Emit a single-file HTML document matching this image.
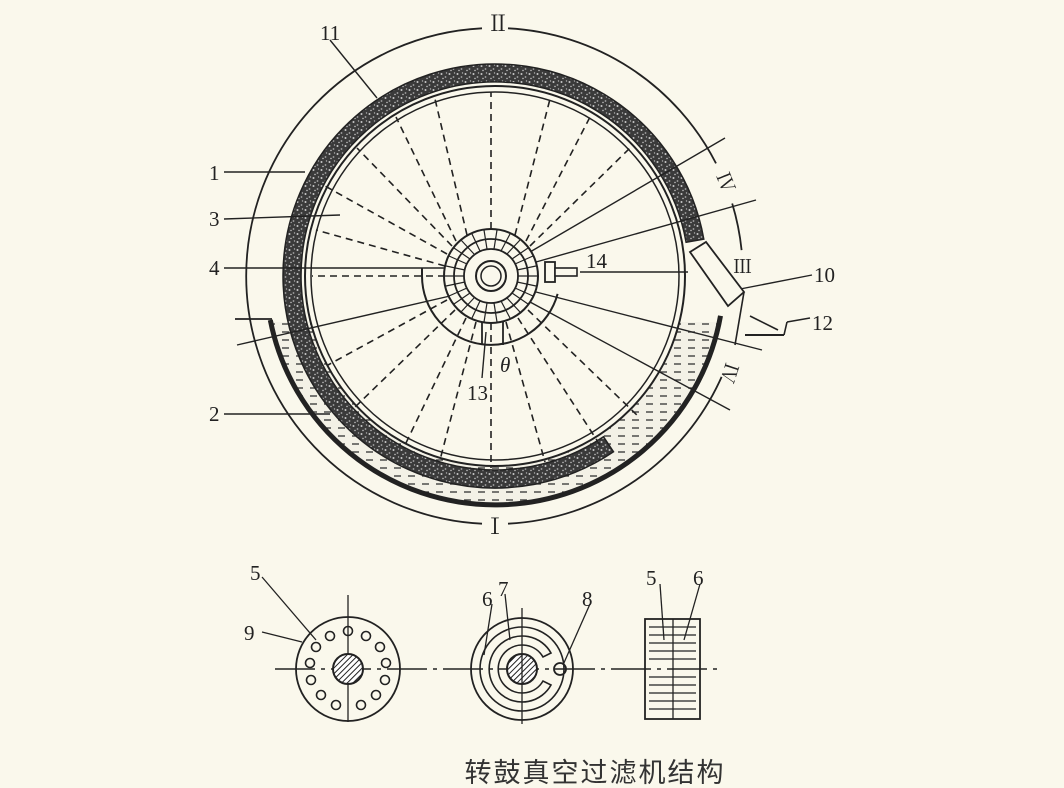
<!DOCTYPE html>
<html><head><meta charset="utf-8"><style>
html,body{margin:0;padding:0;background:#faf8ec;}
svg{display:block;}
text{font-family:"Liberation Serif","Noto Serif CJK SC",serif;fill:#222;}
</style></head><body>
<svg width="1064" height="788" viewBox="0 0 1064 788" xmlns="http://www.w3.org/2000/svg">
<defs>
<pattern id="speck" width="8" height="8" patternUnits="userSpaceOnUse">
<rect width="8" height="8" fill="#3a3a3a"/>
<circle cx="1.5" cy="2" r="1" fill="#c8c8c8"/>
<circle cx="5.5" cy="5" r="0.9" fill="#a8a8a8"/>
<circle cx="3" cy="6.5" r="0.7" fill="#d0d0d0"/>
<circle cx="6.5" cy="1" r="0.7" fill="#b0b0b0"/>
</pattern>
<pattern id="liq" width="14" height="8" patternUnits="userSpaceOnUse">
<rect width="14" height="8" fill="#f3f1e6"/>
<line x1="2" y1="4" x2="9" y2="4" stroke="#333" stroke-width="1.3"/>
</pattern>
<pattern id="hatch" width="4" height="4" patternUnits="userSpaceOnUse" patternTransform="rotate(45)">
<rect width="4" height="4" fill="#fff"/>
<line x1="0" y1="0" x2="0" y2="4" stroke="#222" stroke-width="2"/>
</pattern>
<clipPath id="below"><rect x="0" y="322" width="1064" height="300"/></clipPath>
</defs>

<g fill="none" stroke="#222" stroke-width="1.8">
<path d="M508,28.3 A248,248 0 0 1 716,163.4"/>
<path d="M732.2,203.5 A248,248 0 0 1 741.6,250.1"/>
<path d="M721.6,376.9 A248,248 0 0 1 508,523.7"/>
<path d="M482,523.7 A248,248 0 0 1 482,28.3"/>
</g>

<g clip-path="url(#below)">
<path d="M495,47 A229,229 0 1 1 494.9,47 Z M495,86 A190,190 0 1 0 495.1,86 Z" fill="url(#liq)" fill-rule="evenodd"/>
</g>

<path d="M703.8,239.2 A212,212 0 1 0 613.5,451.8 L603.5,436.8 A194,194 0 1 1 686.1,242.3 Z" fill="url(#speck)" stroke="#222" stroke-width="1.5"/>

<path d="M270.3,320 A229,229 0 0 0 720.5,315.8" fill="none" stroke="#222" stroke-width="5"/>
<line x1="235" y1="319" x2="272" y2="319" stroke="#222" stroke-width="1.8"/>

<circle cx="495" cy="276" r="190" fill="none" stroke="#222" stroke-width="2"/>
<circle cx="495" cy="276" r="184" fill="none" stroke="#222" stroke-width="1.5"/>

<g stroke="#222" stroke-width="1.6" stroke-dasharray="7,5">
<line x1="491" y1="229" x2="491" y2="92"/>
<line x1="467" y1="235" x2="435" y2="99"/>
<line x1="515" y1="235" x2="550" y2="99"/>
<line x1="456" y1="241" x2="396" y2="117"/>
<line x1="526" y1="241" x2="590" y2="117"/>
<line x1="452" y1="246" x2="357" y2="148"/>
<line x1="530" y1="246" x2="630" y2="148"/>
<line x1="447" y1="254" x2="325" y2="186"/>
<line x1="445" y1="266" x2="316" y2="230"/>
<line x1="445" y1="276" x2="312" y2="276"/>
<line x1="447" y1="300" x2="328" y2="365"/>
<line x1="455" y1="310" x2="352" y2="410"/>
<line x1="466" y1="318" x2="405" y2="445"/>
<line x1="476" y1="322" x2="440" y2="460"/>
<line x1="491" y1="323" x2="491" y2="468"/>
<line x1="506" y1="322" x2="545" y2="462"/>
<line x1="518" y1="318" x2="600" y2="445"/>
<line x1="528" y1="310" x2="640" y2="418"/>
</g>

<g stroke="#222" stroke-width="1.4" fill="none">
<line x1="530" y1="252" x2="725" y2="138"/>
<line x1="536" y1="262" x2="756" y2="200"/>
<line x1="580" y1="272" x2="688" y2="272"/>
<line x1="536" y1="292" x2="762" y2="350"/>
<line x1="530" y1="302" x2="730" y2="410"/>
<line x1="450" y1="296" x2="237" y2="345"/>
<line x1="330" y1="40" x2="377" y2="98"/>
<line x1="224" y1="172" x2="305" y2="172"/>
<line x1="224" y1="219" x2="340" y2="215"/>
<line x1="224" y1="268" x2="460" y2="268"/>
<line x1="224" y1="414" x2="330" y2="414"/>
<line x1="812" y1="275" x2="735" y2="290"/>
<line x1="486" y1="332" x2="482" y2="378"/>
</g>

<polygon points="690,252 706,242 744,292 728,306" fill="#faf8ec" stroke="#222" stroke-width="1.8"/>
<g stroke="#222" stroke-width="1.6" fill="none">
<line x1="744" y1="292" x2="735" y2="345"/>
<line x1="750" y1="316" x2="778" y2="330"/>
<line x1="745" y1="335" x2="784" y2="335" stroke-width="2"/>
<line x1="784" y1="335" x2="787" y2="322"/>
<line x1="787" y1="322" x2="810" y2="318"/>
</g>

<g fill="none" stroke="#222">
<circle cx="491" cy="276" r="47" stroke-width="2" fill="#faf8ec"/>
<circle cx="491" cy="276" r="37" stroke-width="1.8"/>
<circle cx="491" cy="276" r="27" stroke-width="1.8"/>
<circle cx="491" cy="276" r="15" stroke-width="2"/>
<circle cx="491" cy="276" r="10" stroke-width="1.5"/>
<path d="M422,276 A69,69 0 0 0 557.6,293.9" stroke-width="2"/>
<line x1="422" y1="276" x2="422" y2="268" stroke-width="2"/>
<line x1="482" y1="322" x2="482" y2="345" stroke-width="1.8"/>
<line x1="503" y1="322" x2="503" y2="345" stroke-width="1.8"/>
<rect x="545" y="262" width="10" height="20" stroke-width="1.8" fill="#faf8ec"/>
<rect x="555" y="268" width="22" height="8" stroke-width="1.6" fill="#faf8ec"/>
</g>
<g stroke="#222" stroke-width="1.2">
<line x1="518" y1="276" x2="538" y2="276"/>
<line x1="517" y1="282" x2="536" y2="286"/>
<line x1="515" y1="288" x2="533" y2="296"/>
<line x1="512" y1="293" x2="528" y2="304"/>
<line x1="507" y1="298" x2="520" y2="312"/>
<line x1="501" y1="301" x2="510" y2="318"/>
<line x1="494" y1="303" x2="497" y2="322"/>
<line x1="487" y1="303" x2="484" y2="322"/>
<line x1="480" y1="301" x2="472" y2="318"/>
<line x1="474" y1="298" x2="461" y2="312"/>
<line x1="470" y1="293" x2="454" y2="304"/>
<line x1="467" y1="288" x2="449" y2="296"/>
<line x1="465" y1="282" x2="446" y2="286"/>
<line x1="464" y1="276" x2="444" y2="276"/>
<line x1="465" y1="270" x2="446" y2="266"/>
<line x1="467" y1="264" x2="449" y2="256"/>
<line x1="470" y1="259" x2="454" y2="248"/>
<line x1="474" y1="254" x2="461" y2="240"/>
<line x1="480" y1="251" x2="472" y2="234"/>
<line x1="487" y1="249" x2="484" y2="230"/>
<line x1="494" y1="249" x2="497" y2="230"/>
<line x1="501" y1="251" x2="510" y2="234"/>
<line x1="507" y1="254" x2="520" y2="240"/>
<line x1="512" y1="259" x2="528" y2="248"/>
<line x1="515" y1="264" x2="533" y2="256"/>
<line x1="517" y1="270" x2="536" y2="266"/>
</g>

<g font-size="21">
<text x="487" y="31" font-size="22">Ⅱ</text>
<text x="484" y="534" font-size="22">Ⅰ</text>
<text x="320" y="40">11</text>
<text x="209" y="180">1</text>
<text x="209" y="226">3</text>
<text x="209" y="275">4</text>
<text x="209" y="421">2</text>
<text x="586" y="268">14</text>
<text x="814" y="282">10</text>
<text x="812" y="330">12</text>
<text x="467" y="400">13</text>
<text x="500" y="372" font-style="italic">θ</text>
<text x="733" y="273" font-size="19">Ⅲ</text>
<text transform="translate(716,176) rotate(68)" font-size="19">Ⅳ</text>
<text transform="translate(726,362) rotate(108)" font-size="19">Ⅳ</text>
</g>

<line x1="275" y1="669" x2="722" y2="669" stroke="#222" stroke-width="1.4" stroke-dasharray="40,6,4,6"/>
<g fill="none" stroke="#222" stroke-width="1.8">
<circle cx="348" cy="669" r="52"/>
<line x1="348" y1="595" x2="348" y2="722" stroke-width="1.3"/>
<circle cx="348" cy="669" r="15" fill="url(#hatch)" stroke-width="2"/>
<g stroke-width="1.6">
<circle cx="348" cy="631" r="4.5"/><circle cx="366" cy="636" r="4.5"/><circle cx="380" cy="647" r="4.5"/>
<circle cx="386" cy="663" r="4.5"/><circle cx="385" cy="680" r="4.5"/><circle cx="376" cy="695" r="4.5"/>
<circle cx="361" cy="705" r="4.5"/><circle cx="336" cy="705" r="4.5"/><circle cx="321" cy="695" r="4.5"/>
<circle cx="311" cy="680" r="4.5"/><circle cx="310" cy="663" r="4.5"/><circle cx="316" cy="647" r="4.5"/>
<circle cx="330" cy="636" r="4.5"/>
</g>
<circle cx="522" cy="669" r="51"/>
<circle cx="522" cy="669" r="42" stroke-width="1.6"/>
<path d="M551,653 A33,33 0 1 0 551,685 L543,681 A24,24 0 1 1 543,657 Z" stroke-width="1.6"/>
<circle cx="522" cy="669" r="15" fill="url(#hatch)" stroke-width="2"/>
<circle cx="560" cy="669" r="6"/>
<line x1="522" y1="608" x2="522" y2="724" stroke-width="1.3"/>
<rect x="645" y="619" width="55" height="100"/>
<line x1="673" y1="619" x2="673" y2="719" stroke-width="1.3"/>
</g>
<g stroke="#222" stroke-width="1.3">
<line x1="649" y1="627" x2="696" y2="627"/><line x1="649" y1="635" x2="696" y2="635"/>
<line x1="649" y1="643" x2="696" y2="643"/><line x1="649" y1="651" x2="696" y2="651"/>
<line x1="649" y1="659" x2="696" y2="659"/><line x1="649" y1="677" x2="696" y2="677"/>
<line x1="649" y1="685" x2="696" y2="685"/><line x1="649" y1="693" x2="696" y2="693"/>
<line x1="649" y1="701" x2="696" y2="701"/><line x1="649" y1="709" x2="696" y2="709"/>
<line x1="262" y1="577" x2="316" y2="640"/>
<line x1="262" y1="632" x2="302" y2="642"/>
<line x1="492" y1="604" x2="484" y2="655"/>
<line x1="505" y1="594" x2="510" y2="640"/>
<line x1="590" y1="604" x2="563" y2="665"/>
<line x1="660" y1="584" x2="664" y2="640"/>
<line x1="700" y1="584" x2="684" y2="640"/>
</g>
<g font-size="21">
<text x="250" y="580">5</text>
<text x="244" y="640">9</text>
<text x="482" y="606">6</text>
<text x="498" y="596">7</text>
<text x="582" y="606">8</text>
<text x="646" y="585">5</text>
<text x="693" y="585">6</text>
</g>
<text x="595" y="782" font-size="27" text-anchor="middle" style="font-family:'Noto Sans CJK SC',sans-serif;letter-spacing:2px;fill:#333">转鼓真空过滤机结构</text>
</svg>
</body></html>
